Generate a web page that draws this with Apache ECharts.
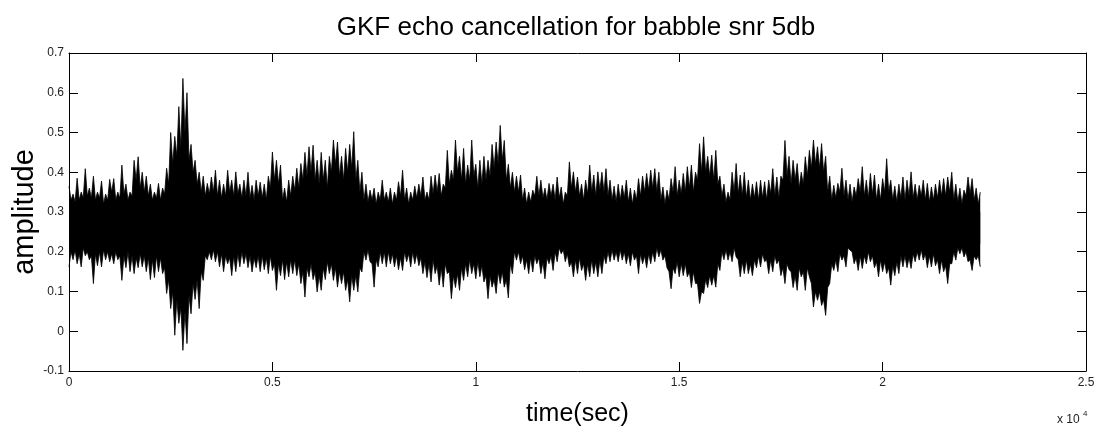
<!DOCTYPE html>
<html><head><meta charset="utf-8">
<script src="https://cdn.jsdelivr.net/npm/echarts@6/dist/echarts.min.js"></script>
<style>html,body{margin:0;padding:0;background:#fff}#c{width:1098px;height:426px}</style>
</head><body><div id="c"></div>
<script>
// Signal envelope: spike tips every SAMPLE_STEP samples,
// and the notch depth between neighbouring spikes (half a step later).
const SAMPLE_STEP = 100;
const upperEnv = [
0.365,0.345,0.385,0.35,0.409,0.36,0.39,0.35,0.378,0.345,0.382,0.384,0.35,0.418,0.37,0.35,0.43,0.439,0.40,0.39,0.37,0.35,0.372,0.36,0.41,0.50,0.49,0.565,0.636,0.60,0.47,0.43,0.40,0.39,0.372,0.388,0.405,0.38,
0.37,0.405,0.38,0.401,0.37,0.38,0.40,0.367,0.38,0.375,0.37,0.39,0.451,0.43,0.418,0.36,0.38,0.39,0.41,0.422,0.45,0.464,0.468,0.43,0.45,0.43,0.44,0.481,0.476,0.44,0.46,0.47,0.502,0.43,0.40,0.37,0.355,0.36,0.35,
0.38,0.35,0.36,0.35,0.376,0.405,0.36,0.35,0.365,0.37,0.388,0.35,0.39,0.393,0.397,0.37,0.455,0.405,0.481,0.44,0.46,0.418,0.481,0.42,0.43,0.44,0.43,0.47,0.476,0.518,0.48,0.42,0.40,0.39,0.393,0.36,0.35,0.355,0.39,
0.38,0.36,0.372,0.37,0.388,0.363,0.35,0.426,0.401,0.388,0.37,0.38,0.418,0.393,0.401,0.40,0.409,0.38,0.365,0.37,0.367,0.38,0.36,0.355,0.384,0.39,0.397,0.405,0.409,0.40,0.363,0.355,0.384,0.414,0.38,0.397,0.414,0.418,0.40,0.472,
0.489,0.44,0.443,0.455,0.39,0.37,0.35,0.40,0.422,0.393,0.40,0.38,0.37,0.376,0.38,0.376,0.38,0.409,0.388,0.39,0.48,0.44,0.43,0.422,0.40,0.439,0.455,0.481,0.464,0.472,0.44,0.39,0.367,0.372,0.41,0.38,0.37,0.363,0.384,
0.414,0.38,0.397,0.393,0.37,0.384,0.434,0.38,0.365,0.37,0.388,0.38,0.401,0.37,0.367,0.38,0.372,0.363,0.37,0.38,0.384,0.388,0.40,0.37,0.36,0.355,0.388,0.384,0.36,0.35
];
const upperNotch = [
0.33,0.325,0.33,0.335,0.34,0.335,0.33,0.335,0.32,0.33,0.35,0.33,0.335,0.345,0.33,0.34,0.38,0.36,0.35,0.34,0.33,0.335,0.33,0.345,0.37,0.42,0.44,0.46,0.50,0.43,0.40,0.37,0.35,0.34,0.345,0.35,0.34,0.335,
0.34,0.35,0.34,0.345,0.335,0.34,0.335,0.33,0.34,0.335,0.33,0.36,0.38,0.37,0.33,0.325,0.34,0.355,0.36,0.38,0.39,0.40,0.38,0.37,0.38,0.36,0.40,0.42,0.39,0.38,0.40,0.41,0.38,0.35,0.33,0.325,0.33,0.32,0.33,
0.33,0.325,0.32,0.33,0.34,0.33,0.32,0.33,0.335,0.34,0.33,0.33,0.345,0.35,0.34,0.36,0.37,0.38,0.40,0.38,0.37,0.38,0.39,0.36,0.37,0.38,0.39,0.41,0.42,0.43,0.38,0.36,0.35,0.35,0.33,0.32,0.325,0.34,0.34,
0.335,0.33,0.34,0.33,0.335,0.32,0.34,0.36,0.35,0.34,0.33,0.345,0.35,0.34,0.355,0.35,0.34,0.33,0.325,0.33,0.335,0.325,0.32,0.33,0.34,0.35,0.355,0.36,0.35,0.33,0.32,0.33,0.35,0.34,0.345,0.35,0.36,0.35,0.38,0.40,
0.40,0.39,0.38,0.37,0.34,0.325,0.33,0.35,0.345,0.34,0.335,0.33,0.335,0.33,0.335,0.33,0.345,0.34,0.335,0.38,0.39,0.37,0.38,0.36,0.37,0.39,0.41,0.42,0.41,0.40,0.35,0.33,0.335,0.35,0.34,0.33,0.325,0.34,0.35,
0.34,0.335,0.345,0.33,0.33,0.35,0.35,0.33,0.325,0.335,0.33,0.34,0.335,0.33,0.34,0.33,0.325,0.33,0.335,0.34,0.34,0.35,0.33,0.325,0.32,0.34,0.345,0.33,0.32
];
const lowerEnv = [
0.162,0.18,0.17,0.162,0.19,0.18,0.12,0.165,0.162,0.18,0.175,0.17,0.18,0.128,0.16,0.15,0.145,0.16,0.162,0.15,0.13,0.135,0.15,0.145,0.095,0.057,-0.01,0.02,-0.048,-0.031,0.044,0.08,0.057,0.128,0.18,0.18,0.175,0.162,
0.15,0.17,0.14,0.15,0.162,0.17,0.16,0.149,0.16,0.15,0.155,0.145,0.153,0.103,0.14,0.13,0.137,0.145,0.14,0.12,0.086,0.137,0.13,0.099,0.103,0.13,0.145,0.128,0.111,0.12,0.103,0.074,0.103,0.099,0.149,0.179,0.175,0.111,0.162,
0.17,0.162,0.17,0.162,0.155,0.153,0.175,0.162,0.17,0.165,0.145,0.135,0.124,0.145,0.116,0.111,0.145,0.082,0.11,0.103,0.128,0.137,0.145,0.132,0.137,0.124,0.082,0.111,0.095,0.12,0.111,0.084,0.145,0.179,0.17,0.155,0.145,0.149,0.17,
0.145,0.132,0.17,0.153,0.175,0.195,0.175,0.162,0.137,0.145,0.153,0.128,0.137,0.145,0.137,0.145,0.17,0.175,0.179,0.175,0.179,0.17,0.165,0.179,0.145,0.17,0.16,0.17,0.175,0.187,0.179,0.16,0.107,0.145,0.137,0.14,0.137,0.11,0.12,0.07,
0.095,0.11,0.116,0.111,0.153,0.18,0.179,0.175,0.187,0.137,0.145,0.145,0.14,0.16,0.162,0.175,0.145,0.15,0.17,0.14,0.12,0.155,0.11,0.103,0.137,0.103,0.137,0.061,0.078,0.065,0.04,0.12,0.153,0.15,0.179,0.162,0.204,0.17,0.153,
0.158,0.17,0.175,0.16,0.137,0.15,0.145,0.116,0.14,0.145,0.162,0.16,0.158,0.175,0.179,0.179,0.16,0.162,0.165,0.145,0.15,0.12,0.17,0.179,0.195,0.187,0.175,0.153,0.18,0.162
];
const lowerNotch = [
0.2,0.205,0.195,0.21,0.2,0.19,0.195,0.2,0.205,0.2,0.195,0.2,0.19,0.19,0.2,0.19,0.185,0.195,0.19,0.185,0.18,0.19,0.185,0.16,0.13,0.1,0.08,0.06,0.05,0.09,0.12,0.13,0.15,0.19,0.2,0.205,0.2,0.195,
0.19,0.185,0.19,0.195,0.2,0.195,0.19,0.185,0.19,0.19,0.185,0.19,0.17,0.17,0.18,0.175,0.18,0.18,0.17,0.15,0.16,0.17,0.15,0.14,0.16,0.175,0.17,0.16,0.15,0.15,0.13,0.14,0.14,0.16,0.2,0.205,0.17,0.18,0.2,
0.2,0.2,0.195,0.19,0.185,0.2,0.195,0.2,0.195,0.185,0.175,0.17,0.18,0.165,0.16,0.17,0.15,0.14,0.145,0.16,0.17,0.18,0.17,0.175,0.165,0.14,0.14,0.13,0.15,0.15,0.13,0.17,0.2,0.2,0.19,0.18,0.185,0.19,0.185,
0.175,0.185,0.19,0.2,0.21,0.205,0.195,0.175,0.18,0.185,0.17,0.17,0.18,0.175,0.18,0.19,0.2,0.205,0.2,0.205,0.2,0.195,0.2,0.19,0.195,0.19,0.195,0.2,0.21,0.205,0.19,0.15,0.16,0.175,0.17,0.17,0.15,0.15,0.12,0.1,
0.13,0.14,0.14,0.17,0.2,0.205,0.2,0.21,0.18,0.175,0.18,0.17,0.18,0.19,0.195,0.18,0.18,0.19,0.18,0.16,0.17,0.15,0.14,0.16,0.15,0.16,0.12,0.1,0.1,0.08,0.11,0.17,0.18,0.195,0.19,0.21,0.2,0.185,0.19,
0.19,0.2,0.19,0.175,0.18,0.175,0.16,0.165,0.175,0.19,0.19,0.185,0.195,0.2,0.205,0.195,0.19,0.195,0.18,0.18,0.165,0.17,0.2,0.21,0.21,0.2,0.18,0.19,0.19
];
const xTickLabels = ['0','0.5','1','1.5','2','2.5'];
const yTickLabels = ['-0.1','0','0.1','0.2','0.3','0.4','0.5','0.6','0.7'];
const titleText = 'GKF echo cancellation for babble snr 5db';
const xName = 'time(sec)';
const yName = 'amplitude';

const FONT = "'Liberation Sans', Arial, Helvetica, sans-serif";
function edge(tips, notches) {
  const out = [];
  tips.forEach((v, i) => {
    out.push([i * SAMPLE_STEP, v]);
    if (i < notches.length) out.push([i * SAMPLE_STEP + SAMPLE_STEP / 2, notches[i]]);
  });
  return out;
}
const upperData = edge(upperEnv, upperNotch);
const lowerData = edge(lowerEnv, lowerNotch);

const chart = echarts.init(document.getElementById('c'), null, {renderer: 'canvas'});
const axisLine = {show: true, onZero: false, lineStyle: {color: '#000', width: 1}};
const axisTick = {show: true, inside: true, length: 9, lineStyle: {color: '#000', width: 1}};
const xBase = {type: 'value', min: 0, max: 25000, interval: 5000, axisLine, axisTick, splitLine: {show: false}};
const yBase = {type: 'value', min: -0.1, max: 0.7, interval: 0.1, axisLine, axisTick, splitLine: {show: false}};
const areaSeries = (data, origin) => ({
  type: 'line', data, symbol: 'none', silent: true, animation: false,
  lineStyle: {color: '#000', width: 0.8},
  areaStyle: {color: '#000', opacity: 1, origin}
});
chart.setOption({
  animation: false,
  backgroundColor: '#fff',
  title: {
    text: titleText, left: 571, top: 10, textAlign: 'center',
    textStyle: {fontFamily: FONT, fontSize: 26, fontWeight: 'normal', color: '#000'}
  },
  grid: {left: 69, right: 12, top: 53, bottom: 55, containLabel: false, outerBoundsMode: 'none'},
  xAxis: [
    Object.assign({}, xBase, {
      position: 'bottom', name: xName, nameLocation: 'middle', nameGap: 31, nameMoveOverlap: false,
      nameTextStyle: {fontFamily: FONT, fontSize: 25, color: '#000'},
      axisLabel: {margin: 6, fontFamily: FONT, fontSize: 12, color: '#222',
        formatter: (v) => xTickLabels[Math.round(v / 5000)]}
    }),
    Object.assign({}, xBase, {position: 'top', axisLabel: {show: false}})
  ],
  yAxis: [
    Object.assign({}, yBase, {
      position: 'left', name: yName, nameLocation: 'middle', nameGap: 30, nameMoveOverlap: false,
      nameTextStyle: {fontFamily: FONT, fontSize: 29, color: '#000'},
      axisLabel: {margin: 5, fontFamily: FONT, fontSize: 12, color: '#222',
        formatter: (v) => yTickLabels[Math.round((v + 0.1) / 0.1)]}
    }),
    Object.assign({}, yBase, {position: 'right', axisLabel: {show: false}})
  ],
  graphic: [
    {type: 'text', left: 1057, top: 414, style: {text: 'x 10', fontFamily: FONT, fontSize: 12, fill: '#222'}},
    {type: 'text', left: 1083, top: 410, style: {text: '4', fontFamily: FONT, fontSize: 8, fill: '#222'}}
  ],
  series: [areaSeries(upperData, 0.22), areaSeries(lowerData, 0.30)]
});
</script></body></html>
